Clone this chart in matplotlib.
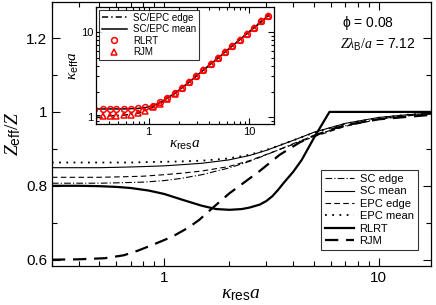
import numpy as np
import matplotlib
matplotlib.use('Agg')
import matplotlib.pyplot as plt
from matplotlib.ticker import FixedLocator, FuncFormatter, NullFormatter, LogLocator

plt.rcParams['font.family'] = ['Liberation Sans', 'DejaVu Sans']
plt.rcParams['mathtext.fontset'] = 'custom'
plt.rcParams['mathtext.rm'] = 'Liberation Serif'
plt.rcParams['mathtext.it'] = 'Liberation Serif:italic'
plt.rcParams['mathtext.sf'] = 'Liberation Sans'

#%% main panel data: Z_eff/Z vs kappa_res a
k_thin = [0.3, 0.4, 0.5, 0.6, 0.7, 0.8, 1.0, 1.2, 1.5, 2.0, 2.5, 3.0, 4.0, 5.0, 7.0, 10, 14, 17.5]
sc_edge = [0.807, 0.807, 0.807, 0.808, 0.809, 0.810, 0.814, 0.820, 0.830, 0.848, 0.866, 0.884,
           0.914, 0.936, 0.963, 0.981, 0.991, 0.995]
epc_edge = [0.823, 0.823, 0.823, 0.824, 0.825, 0.826, 0.830, 0.834, 0.840, 0.852, 0.868, 0.885,
            0.912, 0.933, 0.961, 0.980, 0.990, 0.994]
sc_mean = [0.849, 0.849, 0.849, 0.850, 0.851, 0.852, 0.854, 0.857, 0.861, 0.870, 0.882, 0.896,
           0.923, 0.945, 0.969, 0.985, 0.993, 0.996]
epc_mean = [0.863, 0.863, 0.863, 0.863, 0.863, 0.864, 0.865, 0.866, 0.868, 0.874, 0.884, 0.897,
            0.923, 0.944, 0.968, 0.984, 0.993, 0.996]

k_rlrt = [0.3, 0.4, 0.5, 0.6, 0.7, 0.85, 1.0, 1.22, 1.5, 1.75, 2.02, 2.3, 2.5, 2.79, 3.0, 3.2,
          3.4, 3.6, 4.0, 4.38, 5.0, 5.9, 17.5]
rlrt = [0.800, 0.800, 0.799, 0.797, 0.794, 0.787, 0.778, 0.762, 0.746, 0.737, 0.735, 0.737,
        0.741, 0.749, 0.759, 0.772, 0.789, 0.807, 0.838, 0.870, 0.930, 1.0, 1.0]

k_rjm = [0.3, 0.4, 0.53, 0.65, 0.76, 0.9, 1.09, 1.3, 1.46, 1.66, 2.02, 2.25, 2.79, 3.46, 4.3,
         4.97, 6.2, 7.1, 10, 17.5]
rjm = [0.600, 0.601, 0.604, 0.612, 0.625, 0.642, 0.662, 0.687, 0.708, 0.737, 0.780, 0.800,
       0.840, 0.884, 0.918, 0.935, 0.955, 0.965, 0.980, 0.992]

#%% inset data: kappa_eff a vs kappa_res a
k_in = [0.29, 0.35, 0.41, 0.48, 0.57, 0.67, 0.79, 0.93, 1.1, 1.3, 1.53, 1.81, 2.13, 2.52, 2.97,
        3.5, 4.14, 4.88, 5.76, 6.8, 8.0, 9.46, 11.2, 13.2, 15.5]
keff_rlrt = [1.25, 1.25, 1.25, 1.25, 1.25, 1.26, 1.27, 1.31, 1.37, 1.49, 1.68, 1.91, 2.2, 2.58,
             3.04, 3.57, 4.2, 4.94, 5.82, 6.86, 8.06, 9.5, 11.2, 13.2, 15.5]
keff_rjm = [1.035, 1.035, 1.035, 1.04, 1.055, 1.07, 1.11, 1.19, 1.30, 1.44, 1.64, 1.89, 2.19,
            2.58, 3.04, 3.57, 4.2, 4.94, 5.82, 6.86, 8.06, 9.5, 11.2, 13.2, 15.5]
keff_mean = [1.25, 1.25, 1.25, 1.25, 1.25, 1.26, 1.27, 1.30, 1.36, 1.48, 1.67, 1.90, 2.19, 2.57,
             3.03, 3.56, 4.19, 4.93, 5.81, 6.85, 8.05, 9.5, 11.2, 13.2, 15.5]
keff_edge = [1.04, 1.04, 1.04, 1.045, 1.06, 1.08, 1.12, 1.20, 1.31, 1.45, 1.65, 1.89, 2.19,
             2.57, 3.03, 3.56, 4.19, 4.93, 5.81, 6.85, 8.05, 9.5, 11.2, 13.2, 15.5]

fig = plt.figure(figsize=(4.36, 3.05), dpi=100)
ax = fig.add_axes([0.119, 0.128, 0.869, 0.866])

thin = 0.8
ax.plot(k_thin, sc_edge, color='k', lw=thin, dashes=[6, 2, 1, 2], label='SC edge')
ax.plot(k_thin, sc_mean, color='k', lw=thin, label='SC mean')
ax.plot(k_thin, epc_edge, color='k', lw=thin, dashes=[5, 3], label='EPC edge')
ax.plot(k_thin, epc_mean, color='k', lw=1.3, dashes=[1, 3], label='EPC mean')
ax.plot(k_rlrt, rlrt, color='k', lw=1.6, label='RLRT')
ax.plot(k_rjm, rjm, color='k', lw=1.6, dashes=[6, 3.5], label='RJM')

ax.set_xscale('log')
ax.set_xlim(0.3, 17.5)
ax.set_ylim(0.583, 1.298)
ax.xaxis.set_major_locator(FixedLocator([1, 10]))
ax.xaxis.set_major_formatter(FuncFormatter(lambda v, p: f'{v:g}'))
ax.xaxis.set_minor_locator(LogLocator(base=10, subs=np.arange(2, 10)))
ax.xaxis.set_minor_formatter(NullFormatter())
ax.yaxis.set_major_locator(FixedLocator([0.6, 0.8, 1.0, 1.2]))
ax.yaxis.set_minor_locator(FixedLocator([0.7, 0.9, 1.1]))
ax.yaxis.set_major_formatter(FuncFormatter(lambda v, p: f'{v:g}'))
ax.tick_params(which='both', direction='in', top=True, right=True, labelsize=11)
ax.tick_params(which='major', length=6, width=0.8)
ax.tick_params(which='minor', length=3.5, width=0.8)
for s in ax.spines.values():
    s.set_linewidth(0.9)

ax.set_xlabel(r'$\kappa_{\mathsf{res}}a$', fontsize=14, labelpad=1)
ax.set_ylabel(r'$Z_{\mathsf{eff}}/Z$', fontsize=14, labelpad=2)

ax.text(0.835, 0.905, r'$\mathsf{\phi}$ = 0.08', transform=ax.transAxes, ha='center', fontsize=10)
ax.text(0.86, 0.822, r'$Z\lambda_{\mathsf{B}}/a$ = 7.12', transform=ax.transAxes, ha='center', fontsize=10)

leg = ax.legend(loc='lower right', bbox_to_anchor=(0.965, 0.06), fontsize=8, frameon=True,
                fancybox=False, edgecolor='k', handlelength=2.6, handletextpad=0.5,
                labelspacing=0.22, borderpad=0.35, borderaxespad=0)
leg.get_frame().set_linewidth(0.8)

#%% inset
ins = fig.add_axes([0.220, 0.593, 0.408, 0.384])
ins.plot(k_in, keff_edge, color='k', lw=1.1, dashes=[4, 2, 1, 2], label='SC/EPC edge')
ins.plot(k_in, keff_mean, color='k', lw=1.1, label='SC/EPC mean')
ins.plot(k_in, keff_rlrt, 'o', color='red', mfc='none', ms=4.2, mew=1.1, label='RLRT')
ins.plot(k_in, keff_rjm, '^', color='red', mfc='none', ms=4.2, mew=1.1, label='RJM')
ins.set_xscale('log')
ins.set_yscale('log')
ins.set_xlim(0.3, 17.5)
ins.set_ylim(0.83, 19.5)
ins.xaxis.set_major_locator(FixedLocator([1, 10]))
ins.xaxis.set_major_formatter(FuncFormatter(lambda v, p: f'{v:g}'))
ins.yaxis.set_major_locator(FixedLocator([1, 10]))
ins.yaxis.set_major_formatter(FuncFormatter(lambda v, p: f'{v:g}'))
for a in (ins.xaxis, ins.yaxis):
    a.set_minor_locator(LogLocator(base=10, subs=np.arange(2, 10)))
    a.set_minor_formatter(NullFormatter())
ins.tick_params(which='both', direction='in', top=True, right=True, labelsize=8, pad=2)
ins.tick_params(which='major', length=4.5, width=0.8)
ins.tick_params(which='minor', length=2.5, width=0.8)
for s in ins.spines.values():
    s.set_linewidth(0.9)
ins.set_xlabel(r'$\kappa_{\mathsf{res}}a$', fontsize=11, labelpad=1)
ins.set_ylabel(r'$\kappa_{\mathsf{eff}}a$', fontsize=11, labelpad=0)
leg2 = ins.legend(loc='upper left', fontsize=7, frameon=True, fancybox=False, edgecolor='k',
                  handlelength=2.6, handletextpad=0.6, labelspacing=0.15, borderpad=0.3,
                  borderaxespad=0.3)
leg2.get_frame().set_linewidth(0.8)

fig.savefig('out.png', dpi=100)
